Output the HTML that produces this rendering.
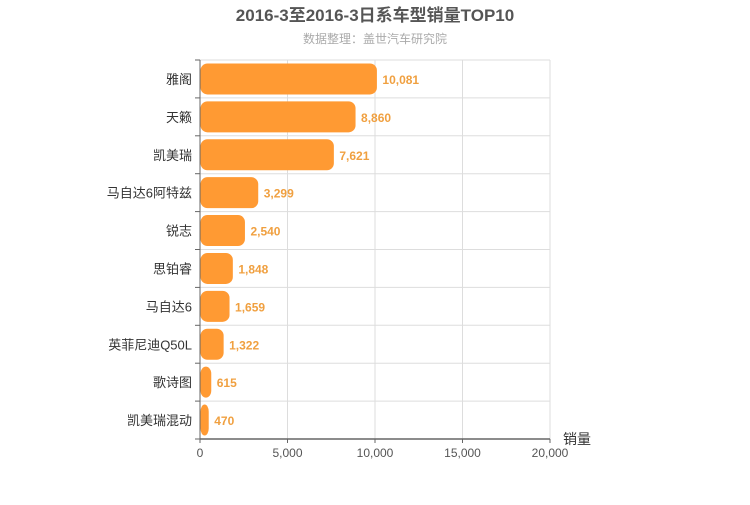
<!DOCTYPE html>
<html><head><meta charset="utf-8"><style>
body{margin:0;background:#fff;font-family:"Liberation Sans","Noto Sans CJK SC",sans-serif}
</style></head><body>
<svg width="750" height="500" id="c" xmlns="http://www.w3.org/2000/svg">
<text x="375" y="21" text-anchor="middle" font-size="17" font-weight="bold" fill="#555">2016-3至2016-3日系车型销量TOP10</text>
<text x="375" y="43" text-anchor="middle" font-size="12" fill="#aaa">数据整理：盖世汽车研究院</text>
<text x="563" y="444" font-size="14" fill="#333">销量</text>
</svg>
<script>
const categories=["雅阁","天籁","凯美瑞","马自达6阿特兹","锐志","思铂睿","马自达6","英菲尼迪Q50L","歌诗图","凯美瑞混动"];
const values=[10081,8860,7621,3299,2540,1848,1659,1322,615,470];
const ticks=[0,5000,10000,15000,20000];
const svg=document.getElementById('c');
const NS='http://www.w3.org/2000/svg';
const X0=200,X1=550,Y0=60,Y1=439,MAX=20000;
const xs=v=>X0+(X1-X0)*v/MAX;
const band=(Y1-Y0)/categories.length;
function mk(t,a,txt){const e=document.createElementNS(NS,t);for(const k in a)e.setAttribute(k,a[k]);if(txt!==undefined)e.textContent=txt;svg.appendChild(e);return e;}
ticks.forEach((t,i)=>{
 const g=mk('line',{x1:xs(t),x2:xs(t),y1:Y0,y2:Y1,stroke:'#ddd'});
 
 
 const l=mk('text',{x:xs(t),y:Y1+18,'text-anchor':'middle','font-size':12,fill:'#555'},t.toLocaleString('en-US'));
 
 
 const tk=mk('line',{x1:xs(t),x2:xs(t),y1:Y1,y2:Y1+4,stroke:'#666'});
 
 
});
for(let i=0;i<=categories.length;i++){
 const y=Y0+i*band;
 const h=mk('line',{x1:X0,x2:X1,y1:y,y2:y,stroke:'#ddd'});
 
 
 const tk=mk('line',{x1:X0-5,x2:X0,y1:y,y2:y,stroke:'#666'});
 
 
}
categories.forEach((c,i)=>{
 const yc=Y0+band*(i+0.5);
 const w=xs(values[i])-X0;
 const b=mk('rect',{x:X0+0.5,y:yc-15.5,width:w,height:31,rx:7,fill:'#ff9a33'});
 
 
 const v=mk('text',{x:X0+w+6,y:yc+5,'font-size':12,'font-weight':'bold',fill:'#f0a040'},values[i].toLocaleString('en-US'));
 
 
 const l=mk('text',{x:X0-8,y:yc+5,'text-anchor':'end','font-size':13,fill:'#333'},c);
 
 
});
const ax=mk('line',{x1:X0,x2:X1,y1:Y1,y2:Y1,stroke:'#666','stroke-width':1.5});


const ay=mk('line',{x1:X0,x2:X0,y1:Y0,y2:Y1,stroke:'#666'});


</script>
</body></html>
